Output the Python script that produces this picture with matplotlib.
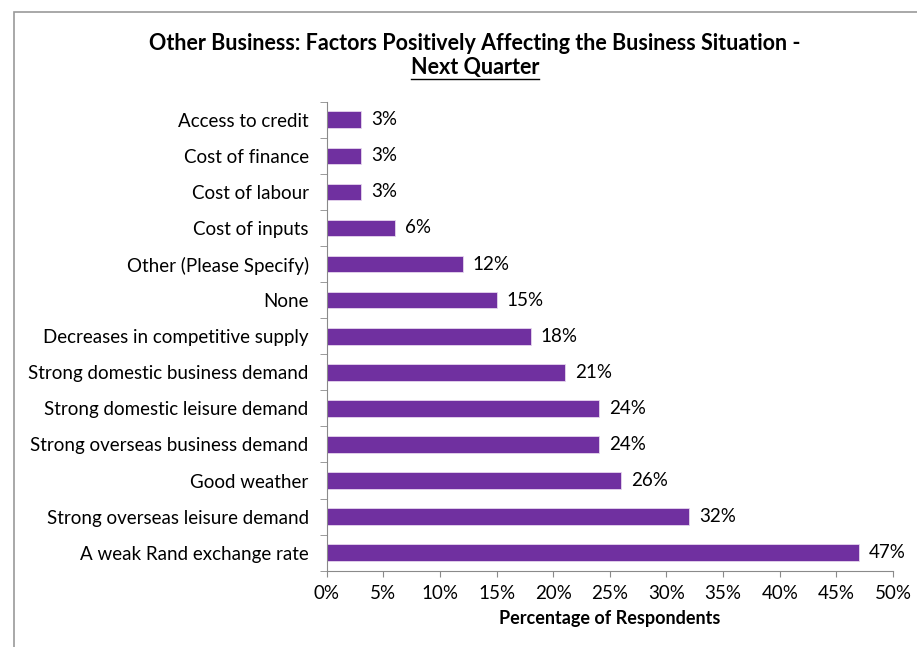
import matplotlib
matplotlib.use("Agg")
import matplotlib.pyplot as plt
import matplotlib.ticker as tck
from matplotlib.patches import Rectangle
import numpy as np

plt.rcParams['font.family'] = ['Lato', 'DejaVu Sans']

# categories top to bottom, percentage of respondents
factors = ['Access to credit', 'Cost of finance', 'Cost of labour', 'Cost of inputs',
           'Other (Please Specify)', 'None', 'Decreases in competitive supply',
           'Strong domestic business demand', 'Strong domestic leisure demand',
           'Strong overseas business demand', 'Good weather',
           'Strong overseas leisure demand', 'A weak Rand exchange rate']
pct = [3, 3, 3, 6, 12, 15, 18, 21, 24, 24, 26, 32, 47]
xticks = [0, 5, 10, 15, 20, 25, 30, 35, 40, 45, 50]

fig = plt.figure(figsize=(9.17, 6.47), dpi=100)
ax = fig.add_axes([0.3563, 0.1179, 0.6175, 0.7249])

# grey frame round the chart area
fig.add_artist(Rectangle((14 / 917, -0.05), 1.1, 1 - 12 / 647 + 0.05,
                         transform=fig.transFigure, fill=False,
                         edgecolor='#9a9a9a', linewidth=1.2))

ypos = np.arange(len(factors))
ax.barh(ypos, pct, height=0.46, color='#7030A0', edgecolor='#e6d6ee', linewidth=0.6)
for y, v in zip(ypos, pct):
    ax.text(v + 0.9, y, f'{v}%', va='center', ha='left', fontsize=13.5)

ax.set_ylim(len(factors) - 0.5, -0.5)
ax.set_yticks(ypos)
ax.set_yticklabels(factors, fontsize=13.5)
ax.yaxis.set_minor_locator(tck.FixedLocator(np.arange(-0.5, len(factors), 1)))
ax.tick_params(axis='y', which='major', length=0, pad=13)
ax.tick_params(axis='y', which='minor', length=5, color='#8a8a8a')

ax.set_xlim(0, 50)
ax.set_xticks(xticks)
ax.set_xticklabels([f'{t}%' for t in xticks], fontsize=13.5)
ax.tick_params(axis='x', length=4, color='#8a8a8a', pad=6)
ax.set_xlabel('Percentage of Respondents', fontsize=13, fontweight='bold', labelpad=6)

for s in ['top', 'right']:
    ax.spines[s].set_visible(False)
for s in ['left', 'bottom']:
    ax.spines[s].set_color('#8a8a8a')

fig.text(0.518, 0.9335, 'Other Business: Factors Positively Affecting the Business Situation -',
         ha='center', va='center', fontsize=15.5, fontweight='bold')
t2 = fig.text(0.518, 0.895, 'Next Quarter', ha='center', va='center',
              fontsize=15.5, fontweight='bold')
# underline beneath the second title line
fig.canvas.draw()
bb = t2.get_window_extent().transformed(fig.transFigure.inverted())
fig.add_artist(plt.Line2D([bb.x0, bb.x1], [bb.y0 - 0.001, bb.y0 - 0.001],
                          transform=fig.transFigure, color='black', linewidth=1))

fig.savefig('out.png', dpi=100)
